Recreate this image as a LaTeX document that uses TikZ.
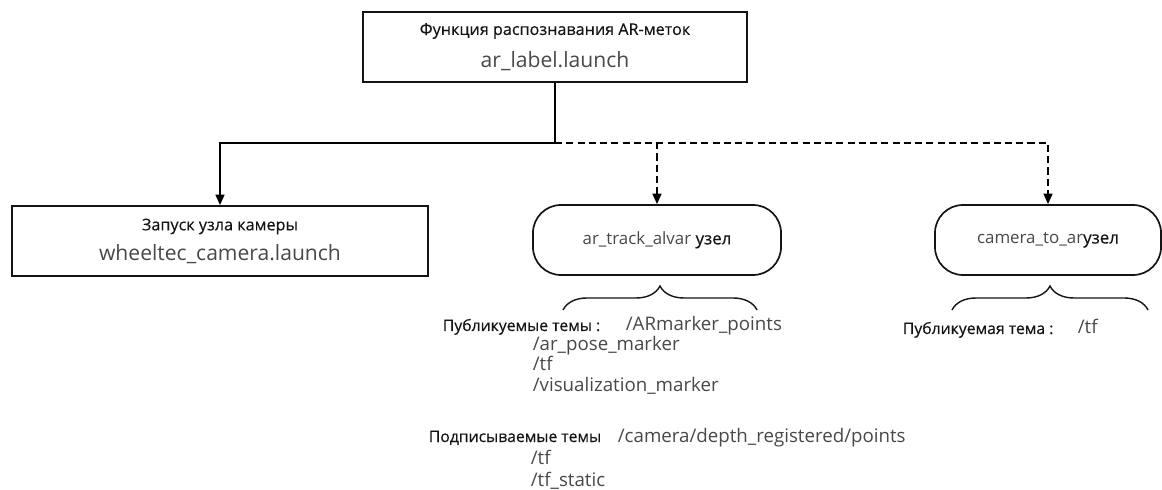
\documentclass[tikz,border=0pt]{standalone}
\usepackage{fontspec}
\setmainfont{Open Sans}
\newfontfamily\rufamily{Open Sans}[FakeBold=0.4]
\usetikzlibrary{arrows.meta,calc,decorations.pathreplacing}
\definecolor{Ink}{HTML}{141414}
\definecolor{Code}{HTML}{484848}
\newcommand{\rufont}{\rufamily\fontsize{11.5}{14}\selectfont\color{Ink}}
\newcommand{\codefont}{\fontsize{15}{18}\selectfont\color{Code}}

\begin{document}
\begin{tikzpicture}[x=0.025cm, y=-0.025cm, line width=1.2pt,
    >={Triangle[length=2.6mm,width=2.2mm]},
    launchbox/.style={draw=Ink, align=center, inner sep=0pt, minimum height=1.75cm},
    nodebox/.style={draw=Ink, rounded corners=0.7cm, inner sep=0pt, minimum height=1.75cm,
      font=\fontsize{12}{14}\selectfont, text=Code},
    topic/.style={anchor=base west, inner sep=0pt, font=\fontsize{13.3}{16}\selectfont, text=Code},
    topichead/.style={anchor=base west, inner sep=0pt, font=\rufamily\fontsize{11.2}{13}\selectfont, text=Ink},
    bracket/.style={draw=Ink, decorate, decoration={brace, amplitude=0.6cm}, line width=1pt}]
  \useasboundingbox (0,0) rectangle (1162,490);

  % launch files
  \node[launchbox, minimum width=9.6cm] (label) at (555,47)
    {{\rufont Функция распознавания AR-меток}\\[8pt]{\codefont ar\_label.launch}};
  \node[launchbox, minimum width=10.4cm] (cam) at (220,241)
    {{\rufont Запуск узла камеры}\\[6pt]{\codefont wheeltec\_camera.launch}};

  % ROS nodes
  \node[nodebox, minimum width=6.2cm] (track) at (657,240) {ar\_track\_alvar {\rufamily\color{Ink}узел}};
  \node[nodebox, minimum width=5.65cm] (conv) at (1048,240) {camera\_to\_ar{\rufamily\color{Ink}узел}};

  \coordinate (split) at (555,143);
  \draw[->] (label.south) -- (split) -| (cam.north);
  \draw[->, dash pattern=on 5pt off 3pt] (split) -| (track.north);
  \draw[->, dash pattern=on 5pt off 3pt] (split) -| (conv.north);

  % topics of ar_track_alvar
  \draw[bracket] (563,310) -- (757,310);
  \node[topichead] (pubhead) at (442,331) {Публикуемые темы :};
  \node[topic] (pub1) at (625,331) {/ARmarker\_points};
  \node[topic] (pub2) at (532,351) {/ar\_pose\_marker};
  \node[topic] (pub3) at (532,371) {/tf};
  \node[topic] (pub4) at (532,392) {/visualization\_marker};
  \node[topichead] (subhead) at (428,442) {Подписываемые темы};
  \node[topic] (sub1) at (617,442) {/camera/depth\_registered/points};
  \node[topic] (sub2) at (530,464) {/tf};
  \node[topic] (sub3) at (530,486) {/tf\_static};

  % topics of camera_to_ar
  \draw[bracket] (952,310) -- (1148,310);
  \node[topichead] (convhead) at (902,334) {Публикуемая тема :};
  \node[topic] (conv1) at (1077,334) {/tf};
\end{tikzpicture}
\end{document}
